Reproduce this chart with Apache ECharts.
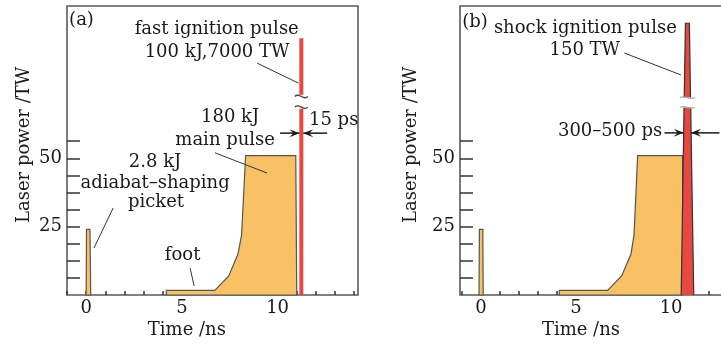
<!DOCTYPE html>
<html><head><meta charset="utf-8">
<script src="https://cdn.jsdelivr.net/npm/echarts@6/dist/echarts.min.js"></script>
<style>html,body{margin:0;padding:0;background:#fff}#c{width:721px;height:344px}</style>
</head><body><div id="c"></div>
<script>
// ---------- data ----------
const X_TICKS = [-1,0,1,2,3,4,5,6,7,8,9,10,11,12,13,14];
const X_LABELS = [0,5,10];
const Y_TICKS = [6.25,12.5,18.75,25,31.25,37.5,43.75,50,56.25];
const Y_LABELS = [25,50];

// panel (a): time (ns), power (TW)
const PICKET_A = [[0,0],[0.02,24],[0.2,24],[0.24,0]];
const MAIN_A = [[4.19,0],[4.19,1.7],[6.72,1.7],[7.45,7],[7.93,15],[8.12,22],[8.33,51],[10.95,51],[11.0,0]];
const FAST_LOW_A = [[11.24,0],[11.24,68.1]];
const FAST_HIGH_A = [[11.24,73.2],[11.24,93.9]];
const BREAKS_A = [[11.24,72.6],[11.24,68.7]];
const ARROWS_A = [[[10.13,59.2],[11.14,59.2]],[[12.59,59.2],[11.34,59.2]]];
const LEADERS_A = [
  [[8.93,84.8],[11.09,77.5]],
  [[6.73,52.0],[9.45,44.6]],
  [[1.41,31.8],[0.41,17.2]],
  [[5.43,9.9],[5.64,3.3]]
];
const NOTES_A = [
  ['(a)', -0.89, 100.3, 'left'],
  ['fast ignition pulse', 6.82, 97.3],
  ['100 kJ,7000 TW', 6.84, 88.9],
  ['15 ps', 12.93, 64.0],
  ['180 kJ', 7.52, 64.8],
  ['main pulse', 7.26, 56.7],
  ['2.8 kJ', 3.6, 48.7],
  ['adiabat\u2013shaping', 3.6, 41.0],
  ['picket', 3.65, 34.0],
  ['foot', 5.04, 14.6]
];
const AXIS_NAMES_A = [['Time /ns', 5.26, -12.8, 0], ['Laser power /TW', -3.24, 54.9, 1]];

// panel (b)
const PICKET_B = [[-0.1,0],[-0.08,24],[0.1,24],[0.12,0]];
const MAIN_B = [[4.12,0],[4.12,1.7],[6.66,1.7],[7.4,7],[7.89,15],[8.05,22],[8.24,51],[10.6,51],[10.62,0]];
const SHOCK_LOW_B = [[10.53,0],[10.68,68.6],[11.03,68.6],[11.19,0]];
const SHOCK_HIGH_B = [[10.69,72.2],[10.75,99.4],[10.96,99.4],[11.02,72.2]];
const BREAKS_B = [[10.855,72.2],[10.855,68.6]];
const ARROWS_B = [[[9.65,59.3],[10.66,59.3]],[[12.54,59.3],[11.05,59.3]]];
const LEADERS_B = [[[7.54,88.5],[10.51,80.5]]];
const NOTES_B = [
  ['(b)', -0.98, 99.9, 'left'],
  ['shock ignition pulse', 5.49, 97.7],
  ['150 TW', 5.46, 89.6],
  ['300\u2013500 ps', 6.79, 59.8]
];
const AXIS_NAMES_B = [['Time /ns', 5.26, -12.8, 0], ['Laser power /TW', -3.68, 54.9, 1]];

// ---------- styles ----------
const FONT = '"DejaVu Serif", serif';
const ORANGE = '#f7c164', OUTLINE = '#555555', RED = '#e8483f', INK = '#1a1a1a';

function arrowHead(tip, from, len, half) {
  const dx = tip[0]-from[0], dy = tip[1]-from[1];
  const d = Math.hypot(dx, dy) || 1, ux = dx/d, uy = dy/d;
  const bx = tip[0]-ux*len, by = tip[1]-uy*len;
  return {type:'polygon', shape:{points:[tip,[bx-uy*half, by+ux*half],[tip[0]-ux*len*0.6, tip[1]-uy*len*0.6],[bx+uy*half, by-ux*half]]}, style:{fill:INK, stroke:'none'}};
}
function tilde(c, w, h, color, lw) {
  return {type:'bezierCurve', shape:{x1:c[0]-w/2, y1:c[1], x2:c[0]+w/2, y2:c[1], cpx1:c[0]-w/6, cpy1:c[1]-h, cpx2:c[0]+w/6, cpy2:c[1]+h}, style:{stroke:color, lineWidth:lw, fill:'none'}};
}
function seg(s, e, color, lw) {
  return {type:'line', shape:{x1:s[0], y1:s[1], x2:e[0], y2:e[1]}, style:{stroke:color, lineWidth:lw, fill:'none'}};
}
function pline(pts, color, lw) {
  return {type:'polyline', shape:{points:pts}, style:{stroke:color, lineWidth:lw, fill:'none', lineCap:'butt'}};
}
function text(api, n) {
  const p = api.coord([n[1], n[2]]);
  return {type:'text', x:p[0], y:p[1], style:{text:n[0], font:'18px ' + FONT, fill:INK, align:n[3] || 'center', verticalAlign:'middle'}};
}
function axisName(api, n) {
  const p = api.coord([n[1], n[2]]);
  return {type:'text', x:p[0], y:p[1], rotation: n[3] ? Math.PI/2 : 0, style:{text:n[0], font:'18px ' + FONT, fill:INK, align:'center', verticalAlign:'middle'}};
}
const C = (api, arr) => arr.map(p => api.coord(p));

function renderA(params, api) {
  const ch = [];
  ch.push({type:'polygon', shape:{points:C(api, PICKET_A)}, style:{fill:ORANGE, stroke:OUTLINE, lineWidth:1.2}});
  ch.push({type:'polygon', shape:{points:C(api, MAIN_A)}, style:{fill:ORANGE, stroke:OUTLINE, lineWidth:1.2}});
  ch.push(pline(C(api, FAST_LOW_A), RED, 4));
  ch.push(pline(C(api, FAST_HIGH_A), RED, 4));
  BREAKS_A.forEach(b => ch.push(tilde(api.coord(b), 13, 5, '#444', 1.3)));
  LEADERS_A.forEach(l => ch.push(seg(api.coord(l[0]), api.coord(l[1]), '#333', 1)));
  ARROWS_A.forEach(a => { const s = api.coord(a[0]), e = api.coord(a[1]);
    ch.push(seg(s, e, INK, 1.5));
    ch.push(arrowHead(e, s, 10, 4)); });
  NOTES_A.forEach(n => ch.push(text(api, n)));
  AXIS_NAMES_A.forEach(n => ch.push(axisName(api, n)));
  return {type:'group', children:ch};
}
function renderB(params, api) {
  const ch = [];
  ch.push({type:'polygon', shape:{points:C(api, PICKET_B)}, style:{fill:ORANGE, stroke:OUTLINE, lineWidth:1.2}});
  ch.push({type:'polygon', shape:{points:C(api, MAIN_B)}, style:{fill:ORANGE, stroke:OUTLINE, lineWidth:1.2}});
  [SHOCK_LOW_B, SHOCK_HIGH_B].forEach((poly, i) => {
    const pts = C(api, poly);
    ch.push({type:'polygon', shape:{points:pts}, style:{fill:RED, stroke:'none'}});
    if (i === 0) {
      ch.push(pline([pts[0], pts[1]], '#333', 1.2));
      ch.push(pline([pts[3], pts[2]], '#333', 1.2));
    } else {
      ch.push(pline(pts, '#333', 1.2));
    }
  });
  BREAKS_B.forEach(b => ch.push(tilde(api.coord(b), 15, 3, '#aaa', 1.2)));
  LEADERS_B.forEach(l => ch.push(seg(api.coord(l[0]), api.coord(l[1]), '#333', 1)));
  ARROWS_B.forEach(a => { const s = api.coord(a[0]), e = api.coord(a[1]);
    ch.push(seg(s, e, INK, 1.5));
    ch.push(arrowHead(e, s, 10, 4)); });
  NOTES_B.forEach(n => ch.push(text(api, n)));
  AXIS_NAMES_B.forEach(n => ch.push(axisName(api, n)));
  return {type:'group', children:ch};
}

function xAxis(idx, min) {
  return {type:'value', gridIndex:idx, min:min, max:14.2,
    axisLine:{show:false, onZero:false}, splitLine:{show:false},
    axisTick:{show:true, inside:true, length:4, customValues:X_TICKS, lineStyle:{color:'#333', width:1.5}},
    axisLabel:{customValues:X_LABELS, margin:4, fontSize:18, fontFamily:FONT, color:INK}};
}
function yAxis(idx) {
  return {type:'value', gridIndex:idx, min:0, max:105.7,
    axisLine:{show:false, onZero:false}, splitLine:{show:false},
    axisTick:{show:true, inside:true, length:13, customValues:Y_TICKS, lineStyle:{color:'#333', width:1.5}},
    axisLabel:{customValues:Y_LABELS, margin:5, fontSize:18, fontFamily:FONT, color:INK}};
}

const chart = echarts.init(document.getElementById('c'), null, {renderer:'canvas'});
chart.setOption({
  animation:false,
  backgroundColor:'#fff',
  grid:[
    {left:67, top:6, width:291, height:289, show:true, borderColor:'#5a5a5a', borderWidth:1.6, backgroundColor:'transparent', outerBoundsMode:'none', containLabel:false},
    {left:460, top:6, width:291, height:289, show:true, borderColor:'#5a5a5a', borderWidth:1.6, backgroundColor:'transparent', outerBoundsMode:'none', containLabel:false}
  ],
  xAxis:[xAxis(0, -1), xAxis(1, -1.1)],
  yAxis:[yAxis(0), yAxis(1)],
  series:[
    {type:'custom', coordinateSystem:'cartesian2d', xAxisIndex:0, yAxisIndex:0, data:[[0,0]], renderItem:renderA, clip:false, silent:true},
    {type:'custom', coordinateSystem:'cartesian2d', xAxisIndex:1, yAxisIndex:1, data:[[0,0]], renderItem:renderB, clip:false, silent:true}
  ]
});
</script></body></html>
